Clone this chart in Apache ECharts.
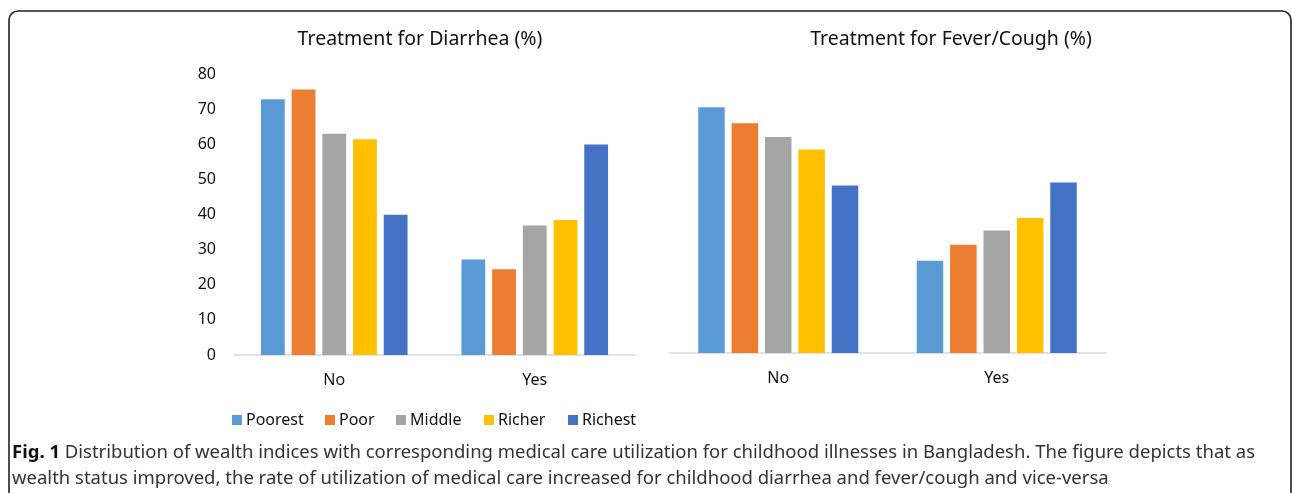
<!DOCTYPE html>
<html><head><meta charset="utf-8">
<script src="https://cdn.jsdelivr.net/npm/echarts@6/dist/echarts.min.js"></script>
<style>html,body{margin:0;padding:0;background:#fff}#c{width:1292px;height:493px}</style>
</head><body><div id="c"></div>
<script>
const categories = ['No', 'Yes'];
const groups = ['Poorest', 'Poor', 'Middle', 'Richer', 'Richest'];
const colors = ['#5B9BD5', '#ED7D31', '#A5A5A5', '#FFC000', '#4472C4'];
// Treatment for Diarrhea (%) : [No, Yes]
const diarrhea = {
  Poorest: [72.8, 27.2],
  Poor: [75.6, 24.4],
  Middle: [63.0, 36.9],
  Richer: [61.4, 38.4],
  Richest: [39.9, 59.9]
};
// Treatment for Fever/Cough (%) : [No, Yes]
const fever = {
  Poorest: [72.8, 27.3],
  Poor: [68.1, 32.1],
  Middle: [64.0, 36.3],
  Richer: [60.3, 40.0],
  Richest: [49.6, 50.5]
};
const yTicks = { min: 0, max: 80, interval: 10 };
const titles = ['Treatment for Diarrhea (%)', 'Treatment for Fever/Cough (%)'];
const captionBold = 'Fig. 1';
const captionLine1 = ' Distribution of wealth indices with corresponding medical care utilization for childhood illnesses in Bangladesh. The figure depicts that as';
const captionLine2 = 'wealth status improved, the rate of utilization of medical care increased for childhood diarrhea and fever/cough and vice-versa';

const FONT = 'Noto Sans';
const chart = echarts.init(document.getElementById('c'));
const series = [];
groups.forEach((g, i) => {
  series.push({ name: g, type: 'bar', xAxisIndex: 0, yAxisIndex: 0, data: diarrhea[g],
    barWidth: 23.8, barGap: '29%', itemStyle: { color: colors[i] }, silent: true });
});
groups.forEach((g, i) => {
  series.push({ name: g, type: 'bar', xAxisIndex: 1, yAxisIndex: 1, data: fever[g],
    barWidth: 26.5, barGap: '26%', itemStyle: { color: colors[i] }, silent: true });
});
const xAxisBase = {
  type: 'category', data: categories,
  axisLine: { lineStyle: { color: '#d9d9d9', width: 1.5 } },
  axisTick: { show: false },
  axisLabel: { fontFamily: FONT, fontSize: 16, color: '#111', margin: 17 }
};
const legendLefts = [232, 325, 396, 484, 568];
const legends = groups.map((g, i) => ({
  data: [g], left: legendLefts[i], top: 412, padding: 0, itemWidth: 10, itemHeight: 10,
  icon: 'rect', selectedMode: false,
  textStyle: { fontFamily: FONT, fontSize: 16, color: '#111', padding: [0, 0, 0, -1] }
}));
chart.setOption({
  animation: false,
  textStyle: { fontFamily: FONT },
  grid: [
    { left: 234, right: 657, top: 74, bottom: 138 },
    { left: 669, right: 186, top: 83, bottom: 140 }
  ],
  xAxis: [Object.assign({ gridIndex: 0 }, xAxisBase), Object.assign({ gridIndex: 1 }, xAxisBase)],
  yAxis: [
    { gridIndex: 0, type: 'value', min: yTicks.min, max: yTicks.max, interval: yTicks.interval,
      splitLine: { show: false }, axisLine: { show: false }, axisTick: { show: false },
      axisLabel: { fontFamily: FONT, fontSize: 16, color: '#111', margin: 18 } },
    { gridIndex: 1, type: 'value', min: yTicks.min, max: yTicks.max, interval: yTicks.interval,
      splitLine: { show: false }, axisLine: { show: false }, axisTick: { show: false },
      axisLabel: { show: false } }
  ],
  legend: legends,
  title: [
    { text: titles[0], left: 420, top: 29, textAlign: 'center', padding: 0,
      textStyle: { fontFamily: FONT, fontSize: 19.5, fontWeight: 'normal', color: '#111' } },
    { text: titles[1], left: 951, top: 29, textAlign: 'center', padding: 0,
      textStyle: { fontFamily: FONT, fontSize: 19.5, fontWeight: 'normal', color: '#111' } }
  ],
  graphic: [
    { type: 'rect', shape: { x: 9, y: 11, width: 1282, height: 520, r: 9 },
      style: { fill: 'none', stroke: '#222', lineWidth: 1.6 }, silent: true },
    { type: 'text', left: 12, top: 443, silent: true,
      style: { text: '{b|' + captionBold + '}{n|' + captionLine1 + '}',
        rich: { b: { fontFamily: FONT, fontSize: 18.5, fontWeight: 'bold', fill: '#111' },
                n: { fontFamily: FONT, fontSize: 18.5, fill: '#333' } } } },
    { type: 'text', left: 12, top: 469, silent: true,
      style: { text: captionLine2, fontFamily: FONT, fontSize: 18.5, fill: '#333' } }
  ],
  series: series
});
</script></body></html>
